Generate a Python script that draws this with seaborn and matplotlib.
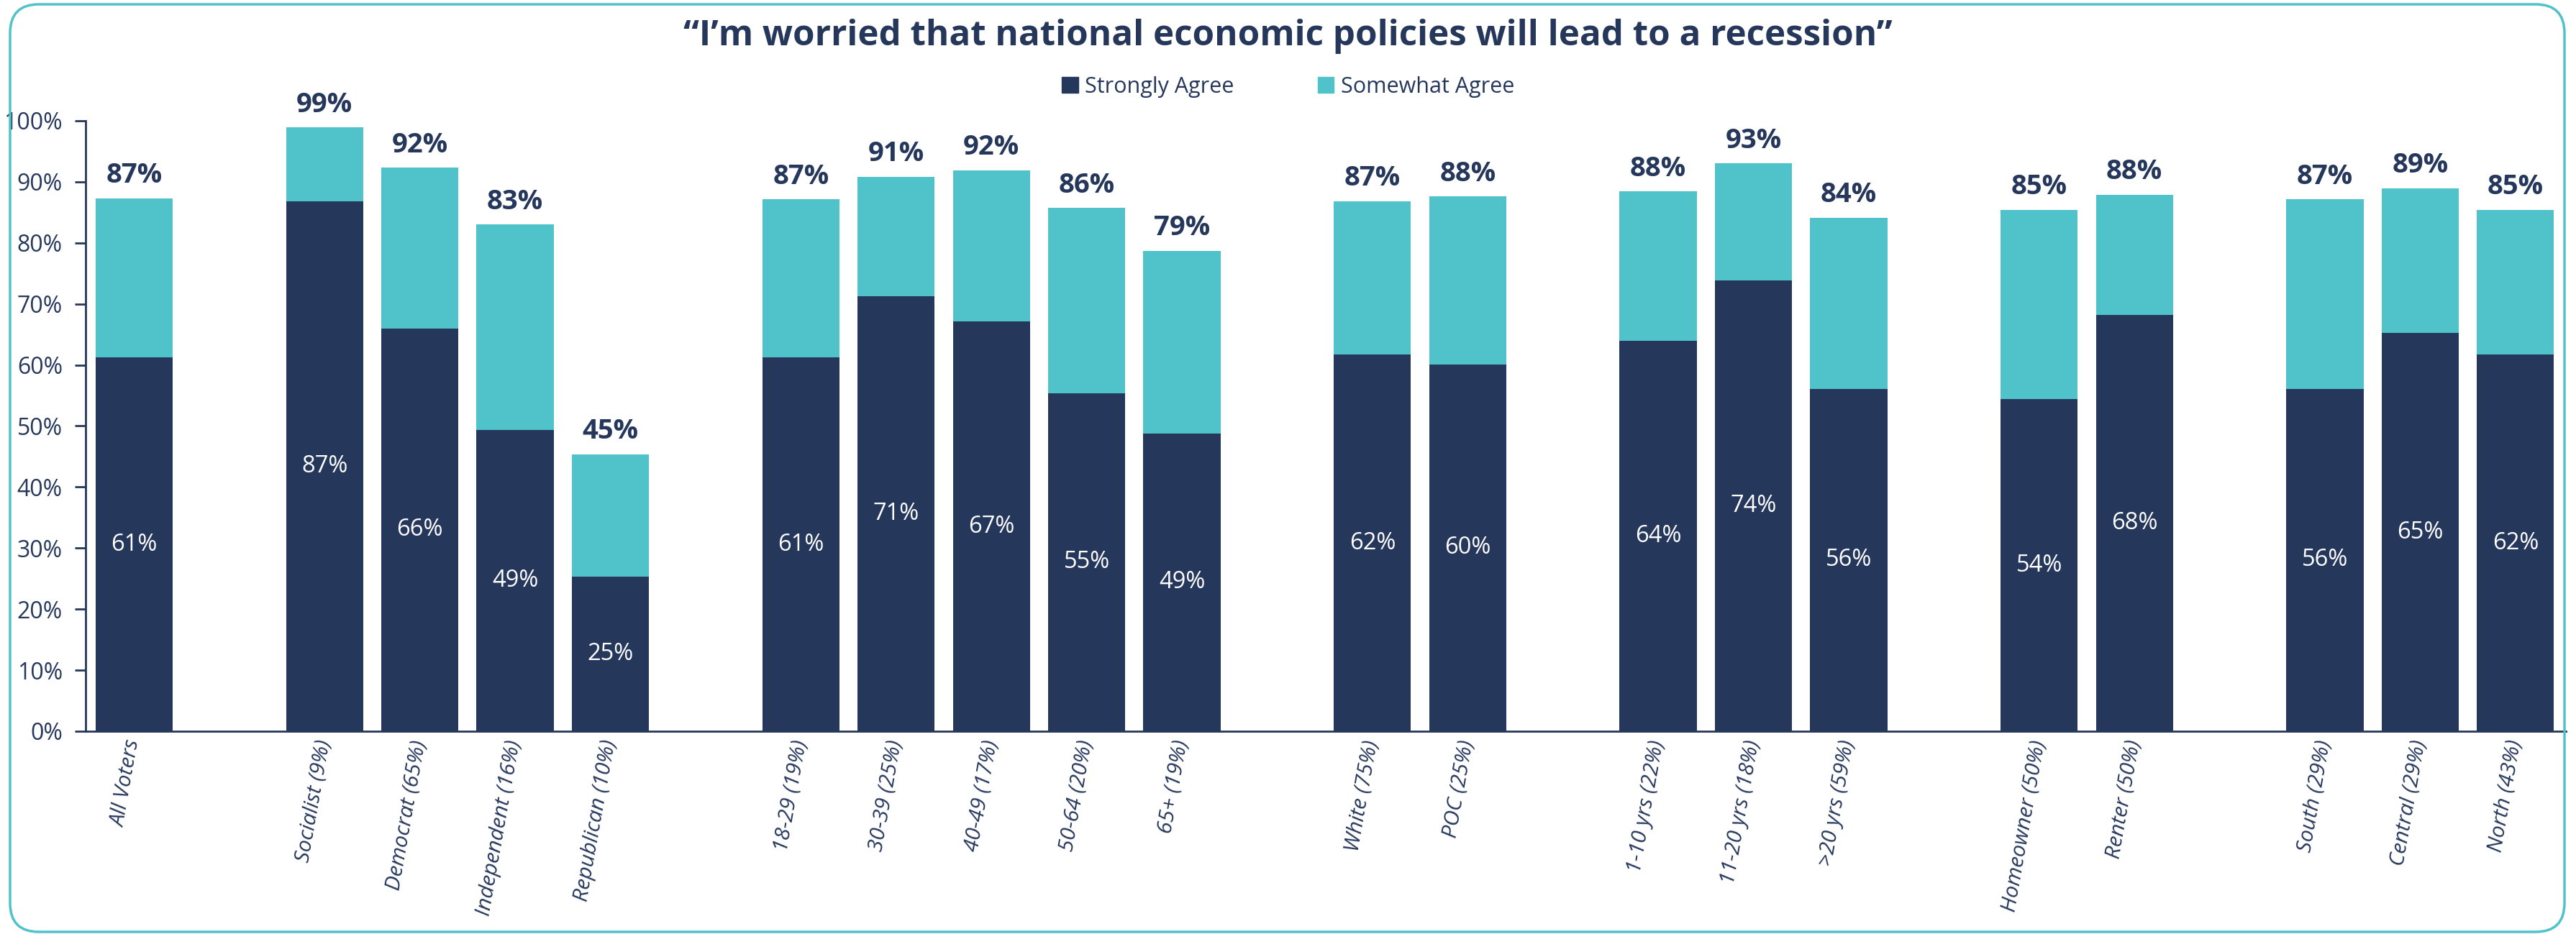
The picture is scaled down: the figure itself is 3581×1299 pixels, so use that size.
import numpy as np
import pandas as pd
import matplotlib
matplotlib.use("Agg")
import matplotlib.pyplot as plt
import seaborn as sns
from matplotlib.patches import FancyBboxPatch, Patch
from matplotlib.ticker import PercentFormatter

# data
groups = ["all", "party", "party", "party", "party",
          "age", "age", "age", "age", "age",
          "race", "race",
          "yrs", "yrs", "yrs",
          "home", "home",
          "region", "region", "region"]
labels = ["All Voters",
          "Socialist (9%)", "Democrat (65%)", "Independent (16%)", "Republican (10%)",
          "18-29 (19%)", "30-39 (25%)", "40-49 (17%)", "50-64 (20%)", "65+ (19%)",
          "White (75%)", "POC (25%)",
          "1-10 yrs (22%)", "11-20 yrs (18%)", ">20 yrs (59%)",
          "Homeowner (50%)", "Renter (50%)",
          "South (29%)", "Central (29%)", "North (43%)"]
strongly = [61.2,
            86.8, 66.0, 49.3, 25.3,
            61.2, 71.2, 67.1, 55.4, 48.8,
            61.7, 60.1,
            63.9, 73.9, 56.1,
            54.4, 68.2,
            56.1, 65.2, 61.7]
total = [87.3,
         98.9, 92.3, 83.0, 45.4,
         87.1, 90.8, 91.9, 85.7, 78.7,
         86.8, 87.6,
         88.4, 93.0, 84.1,
         85.4, 87.9,
         87.1, 88.9, 85.4]

title = "\u201cI\u2019m worried that national economic policies will lead to a recession\u201d"

NAVY = "#26375C"
TEAL = "#4FC3C9"

# one empty slot between groups
pos = []
x = 0
prev = None
for g in groups:
    if prev is not None and g != prev:
        x += 1
    pos.append(x)
    x += 1
    prev = g

df = pd.DataFrame({"pos": pos, "label": labels,
                   "strongly": np.array(strongly) / 100,
                   "total": np.array(total) / 100})

sns.set_theme(style="white")
plt.rcParams["font.family"] = ["Open Sans", "DejaVu Sans"]

fig = plt.figure(figsize=(35.81, 12.99), dpi=100)
ax = fig.add_axes([0.0332, 0.2171, 0.9629, 0.6536])

sns.barplot(data=df, x="pos", y="total", native_scale=True, color=TEAL,
            width=0.81, saturation=1, errorbar=None, linewidth=0, ax=ax)
sns.barplot(data=df, x="pos", y="strongly", native_scale=True, color=NAVY,
            width=0.81, saturation=1, errorbar=None, linewidth=0, ax=ax)

for _, r in df.iterrows():
    ax.text(r["pos"], r["strongly"] / 2, f"{round(r['strongly'] * 100)}%",
            ha="center", va="center", color="white", fontsize=23.5)
    ax.text(r["pos"], r["total"] + 0.015, f"{round(r['total'] * 100)}%",
            ha="center", va="bottom", color=NAVY, fontsize=27.5, fontweight="bold",
            clip_on=False)

ax.set_xlim(-0.51, 25.53)
ax.set_ylim(0, 1)
ax.set_yticks(np.arange(0, 1.01, 0.1))
ax.yaxis.set_major_formatter(PercentFormatter(1, decimals=0))
ax.set_xticks(df["pos"])
ax.set_xticklabels(df["label"], rotation=80, ha="right", va="center",
                   rotation_mode="anchor", style="italic", fontsize=21.5, color=NAVY)
ax.tick_params(axis="x", length=0, pad=9)
ax.tick_params(axis="y", left=True, length=11, width=2, color=NAVY,
               labelsize=23, labelcolor=NAVY, pad=12)
ax.set_xlabel("")
ax.set_ylabel("")
sns.despine(ax=ax)
for s in ["left", "bottom"]:
    ax.spines[s].set_color(NAVY)
    ax.spines[s].set_linewidth(2)

handles = [Patch(color=NAVY, label="Strongly Agree"),
           Patch(color=TEAL, label="Somewhat Agree")]
fig.legend(handles=handles, loc="center", bbox_to_anchor=(0.5, 0.907), ncol=2,
           frameon=False, fontsize=22, handlelength=0.75, handleheight=0.75,
           handletextpad=0.3, columnspacing=3.8, labelcolor=NAVY)

fig.text(0.5, 0.9615, title, ha="center", va="center", fontsize=35.5,
         fontweight="bold", color=NAVY)

border = FancyBboxPatch((0.14, 0.03), 35.51, 12.90,
                        boxstyle="round,pad=0,rounding_size=0.4",
                        transform=fig.dpi_scale_trans, fill=False,
                        edgecolor=TEAL, linewidth=2.5)
fig.patches.append(border)

fig.savefig("out.png", dpi=100)
